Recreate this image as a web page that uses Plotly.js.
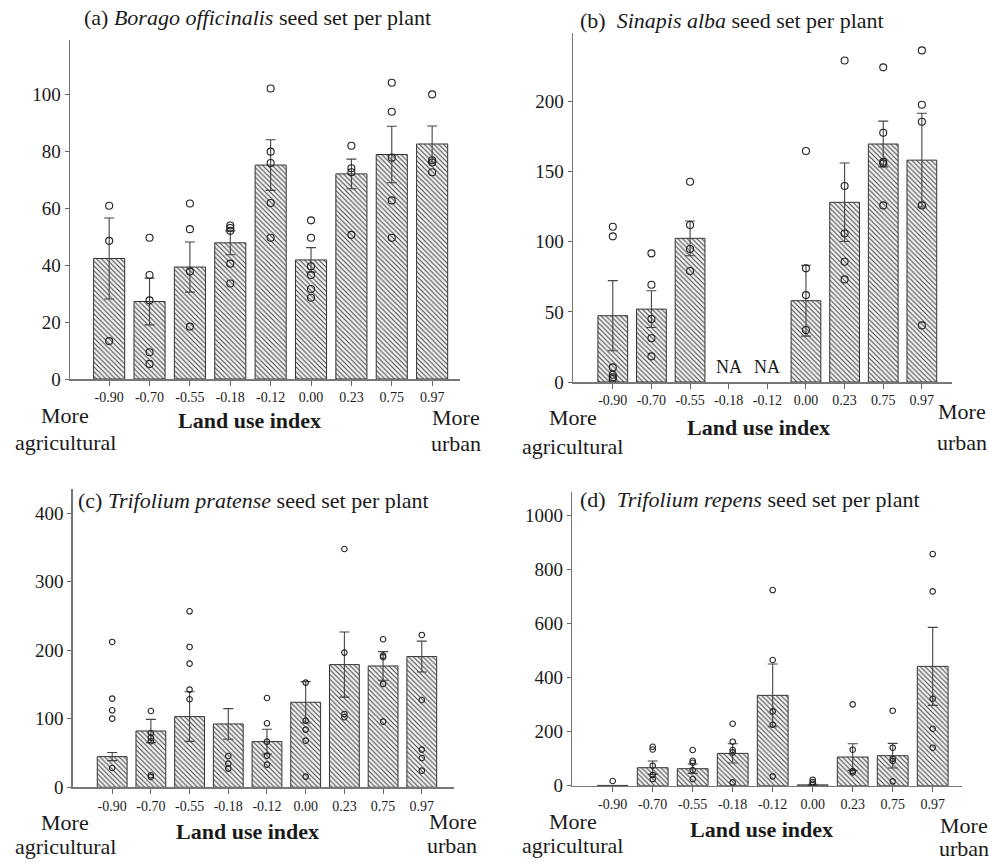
<!DOCTYPE html>
<html>
<head>
<meta charset="utf-8">
<script src="https://cdn.plot.ly/plotly-3.0.1.min.js"></script>
<style>html,body{margin:0;padding:0;background:#fff;}#chart{width:989px;height:862px;}</style>
</head>
<body>
<div id="chart"></div>
<script>
// ---------- DATA ----------
const categories = ["-0.90","-0.70","-0.55","-0.18","-0.12","0.00","0.23","0.75","0.97"];

// (a) Borago officinalis
const boragoMean = [42.3, 27.2, 39.3, 47.8, 75.1, 41.8, 72.0, 78.8, 82.5];
const boragoSE   = [14.2, 8.2, 8.8, 4.2, 8.9, 4.3, 5.2, 9.9, 6.3];
const boragoPoints = [
  [60.8, 48.5, 13.3],
  [49.6, 36.5, 27.6, 9.4, 5.3],
  [61.6, 52.6, 37.7, 18.4],
  [53.9, 53.0, 52.0, 40.5, 33.5],
  [102, 79.8, 75.8, 61.8, 49.6],
  [55.7, 49.6, 39.6, 36.5, 31.6, 28.5],
  [81.9, 74.0, 72.6, 50.6],
  [104, 93.8, 77.7, 62.7, 49.6],
  [99.9, 76.8, 76.0, 72.6]
];

// (b) Sinapis alba
const sinapisMean = [47.3, 52.0, 102.5, null, null, 58.0, 128.2, 169.8, 158.3];
const sinapisSE   = [25.0, 13.1, 12.4, null, null, 25.3, 28.0, 16.3, 33.4];
const sinapisPoints = [
  [110.8, 103.9, 10.4, 5.2, 3.3, 2.1],
  [91.8, 69.4, 45.0, 31.2, 18.3],
  [142.9, 112.0, 94.9, 79.2],
  [],
  [],
  [164.8, 81.1, 62.0, 37.1],
  [229.4, 139.8, 106.0, 85.8, 73.2],
  [224.5, 177.8, 157.1, 156.0, 126.0],
  [236.6, 197.8, 185.7, 126.0, 40.4]
];
const sinapisNA = ["-0.18", "-0.12"];
const naLabelValue = 11;

// (c) Trifolium pratense
const pratenseMean = [44.8, 82.2, 103.2, 92.5, 66.7, 124.1, 179.1, 177.1, 190.8];
const pratenseSE   = [5.9, 17.0, 36.2, 22.4, 18.0, 30.2, 47.5, 20.9, 22.6];
const pratensePoints = [
  [212.2, 129.4, 112.4, 100.2, 28.2],
  [111.4, 79.3, 72.5, 67.2, 17.5, 15.1],
  [256.9, 204.9, 180.5, 142.6, 128.5],
  [45.7, 34.5, 27.3],
  [130.4, 93.4, 66.7, 46.2, 33.1],
  [152.8, 97.3, 84.2, 68.1, 15.6],
  [347.9, 196.6, 107.1, 102.2],
  [216.1, 192.2, 189.8, 150.9, 95.9],
  [222.4, 127.5, 55.0, 42.8, 24.3]
];

// (d) Trifolium repens
const repensMean = [1, 66.5, 62.8, 119.5, 334, 3, 106, 110.9, 441.2];
const repensSE   = [0, 24.7, 17.2, 35.7, 115.9, 2, 49.3, 45.6, 144.2];
const repensPoints = [
  [17.3],
  [144, 134, 74, 39.4, 24.6],
  [131.9, 92.4, 85, 57.9, 24.6],
  [229.2, 162.7, 131.9, 123.2, 12.3],
  [723.3, 464.6, 274.8, 225.5, 34.5],
  [22.2, 13.6, 7.4],
  [300.7, 133.1, 54.2, 49.3],
  [277.3, 140.5, 99.8, 91.2, 16],
  [856.4, 718.4, 321.6, 210.7, 140.5]
];

// ---------- LAYOUT HELPERS ----------
const W = 989, H = 862;
const px = x => x / W;
const py = y => 1 - y / H;
const FONT = "Liberation Serif";
const INK = "#1a1a1a";

const panels = [
  {mean: boragoMean, se: boragoSE, pts: boragoPoints, xd: [70, 460], yd: [379, 40], xr: [-0.97, 8.69], yr: [0, 119], dtick: 20, msize: 7,
   title: "(a) <i>Borago officinalis</i> seed set per plant", tpos: [257, 18, "center"],
   labels: {moreL: [65, 415], agri: [65, 442], land: [249, 420], moreR: [456, 418], urban: [456, 444]}},
  {mean: sinapisMean, se: sinapisSE, pts: sinapisPoints, xd: [573, 952], yd: [382, 33], xr: [-1.03, 8.78], yr: [0, 249], dtick: 50, msize: 7,
   title: "(b)&nbsp;&nbsp;<i>Sinapis alba</i> seed set per plant", tpos: [732, 20, "center"],
   labels: {moreL: [573, 418], agri: [572, 446], land: [758, 428], moreR: [962, 411], urban: [962, 442]}},
  {mean: pratenseMean, se: pratenseSE, pts: pratensePoints, xd: [72.7, 454.3], yd: [787.3, 489.3], xr: [-1.02, 8.84], yr: [0, 435], dtick: 100, msize: 5.5,
   title: "(c) <i>Trifolium pratense</i> seed set per plant", tpos: [76, 500, "left"],
   labels: {moreL: [65, 822], agri: [65, 846], land: [248, 831], moreR: [453, 821], urban: [452, 845]}},
  {mean: repensMean, se: repensSE, pts: repensPoints, xd: [572.3, 962.3], yd: [785.7, 491.7], xr: [-1.01, 8.74], yr: [0, 1087], dtick: 200, msize: 5.5,
   title: "(d)&nbsp;&nbsp;<i>Trifolium repens</i> seed set per plant", tpos: [578, 499, "left"],
   labels: {moreL: [573, 821], agri: [572, 845], land: [761, 829], moreR: [964, 825], urban: [964, 848]}}
];

const traces = [];
const layout = {
  width: W, height: H,
  margin: {l: 0, r: 0, t: 0, b: 0},
  paper_bgcolor: "#fff", plot_bgcolor: "rgba(0,0,0,0)",
  showlegend: false,
  bargap: 0.23,
  font: {family: FONT, color: INK},
  annotations: []
};

function ann(text, pos, size, opts) {
  return Object.assign({
    text: text, xref: "paper", yref: "paper",
    x: px(pos[0]), y: py(pos[1]), xanchor: "center", yanchor: "middle",
    showarrow: false, font: {family: FONT, size: size, color: INK}
  }, opts || {});
}

panels.forEach((p, i) => {
  const n = i + 1;
  const xa = n === 1 ? "x" : "x" + n;
  const ya = n === 1 ? "y" : "y" + n;
  traces.push({
    type: "bar", x: categories, y: p.mean, xaxis: xa, yaxis: ya,
    marker: {
      color: "#ffffff",
      line: {color: "#333", width: 1},
      pattern: {shape: "\\", fgcolor: "#4a4a4a", bgcolor: "#f7f7f7", size: 3.4, solidity: 0.34}
    },
    error_y: {type: "data", array: p.se, visible: true, color: "#444", thickness: 1.1, width: 5},
    hoverinfo: "skip"
  });
  const sx = [], sy = [];
  p.pts.forEach((arr, k) => arr.forEach(v => { sx.push(categories[k]); sy.push(v); }));
  traces.push({
    type: "scatter", mode: "markers", x: sx, y: sy, xaxis: xa, yaxis: ya,
    marker: {symbol: "circle-open", size: p.msize, color: "#222", line: {width: 1.1, color: "#222"}},
    cliponaxis: false, hoverinfo: "skip"
  });
  const xname = n === 1 ? "xaxis" : "xaxis" + n;
  const yname = n === 1 ? "yaxis" : "yaxis" + n;
  layout[xname] = {
    domain: [px(p.xd[0]), px(p.xd[1])], anchor: ya,
    type: "category", categoryorder: "array", categoryarray: categories,
    range: p.xr, showgrid: false, zeroline: false,
    showline: true, linecolor: "#777", linewidth: 1.5,
    ticks: "outside", ticklen: 5, tickcolor: "#666", tickwidth: 1,
    tickfont: {family: FONT, size: 14, color: INK}, fixedrange: true
  };
  layout[yname] = {
    domain: [py(p.yd[0]), py(p.yd[1])], anchor: xa,
    range: p.yr, dtick: p.dtick, tick0: 0, showgrid: false, zeroline: false,
    showline: true, linecolor: "#777", linewidth: 1.5,
    ticks: "outside", ticklen: 4, tickcolor: "#666", tickwidth: 1,
    tickfont: {family: FONT, size: 19, color: INK}, fixedrange: true
  };
  layout.annotations.push(ann(p.title, [p.tpos[0], p.tpos[1]], 22, {xanchor: p.tpos[2]}));
  const L = p.labels;
  layout.annotations.push(ann("More", L.moreL, 22));
  layout.annotations.push(ann("agricultural", L.agri, 22));
  layout.annotations.push(ann("<b>Land use index</b>", L.land, 22));
  layout.annotations.push(ann("More", L.moreR, 22));
  layout.annotations.push(ann("urban", L.urban, 22));
});

// NA labels in panel (b) (positioned by category index on the category axis)
sinapisNA.forEach(c => {
  layout.annotations.push({
    text: "NA", xref: "x2", yref: "y2", x: categories.indexOf(c), y: naLabelValue,
    showarrow: false, xanchor: "center", yanchor: "middle",
    font: {family: FONT, size: 18, color: INK}
  });
});

Plotly.newPlot("chart", traces, layout, {staticPlot: true, displayModeBar: false});
</script>
</body>
</html>
